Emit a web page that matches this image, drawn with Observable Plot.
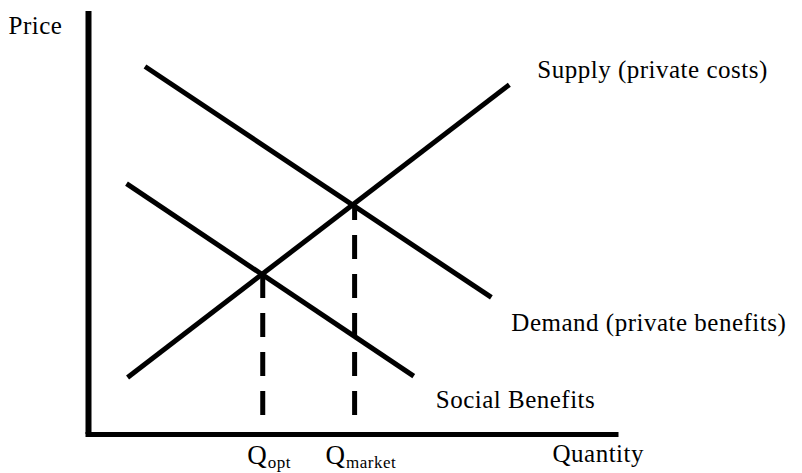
<!DOCTYPE html>
<html><head><meta charset="utf-8">
<script src="https://cdn.jsdelivr.net/npm/d3@7"></script>
<script src="https://cdn.jsdelivr.net/npm/@observablehq/plot@0.6"></script>
<style>
html,body{margin:0;padding:0;background:#fff;}
#chart svg{display:block;}
#chart svg, #chart svg text{font-family:"Liberation Serif","Times New Roman",serif !important;letter-spacing:0.5px;}
</style></head><body><div id="chart"></div>
<script>
// Curve end points (Quantity, Price) in abstract units, axes 0–100
const supplyQ = [7.4, 79.7];
const supplyP = [13.5, 82.7];
const demandQ = [10.7, 76.3];
const demandP = [87.0, 32.4];
const socialQ = [7.2, 61.6];
const socialP = [59.3, 13.8];
// Equilibria: optimal (social benefits = supply) and market (demand = supply)
const equilibriumQ = [33.0, 50.4];
const equilibriumP = [38.1, 54.1];
const equilibriumSub = ["opt", "market"];
const curveLabels = ["Supply (private costs)", "Demand (private benefits)", "Social Benefits"];
const axisLabels = ["Price", "Quantity"];

const toPts = (qs, ps) => qs.map((q, i) => ({q, p: ps[i]}));
const supply = toPts(supplyQ, supplyP);
const demand = toPts(demandQ, demandP);
const social = toPts(socialQ, socialP);
const equilibria = equilibriumQ.map((q, i) => ({q, p: equilibriumP[i], sub: equilibriumSub[i]}));

const FONT = "Liberation Serif";
const LS = 0.5;
const ctx = document.createElement("canvas").getContext("2d");
function tw(s, size) { ctx.font = `${size}px "Liberation Serif"`; return ctx.measureText(s).width + s.length * LS; }

const QSIZE = 27, SUBSIZE = 17;
const qLabelMarks = equilibria.flatMap(d => {
  const wQ = tw("Q", QSIZE), wS = tw(d.sub, SUBSIZE);
  const dx = 6 - (wQ + wS) / 2 + wQ;
  return [
    Plot.text([d], {x: "q", y: () => 0, text: () => "Q", textAnchor: "end", lineAnchor: "bottom", dx, dy: 29, fontSize: QSIZE, fontFamily: FONT, fill: "#000"}),
    Plot.text([d], {x: "q", y: () => 0, text: "sub", textAnchor: "start", lineAnchor: "bottom", dx: dx + 0.5, dy: 33, fontSize: SUBSIZE, fontFamily: FONT, fill: "#000"})
  ];
});

const lineStyle = {x: "q", y: "p", stroke: "#000", strokeWidth: 5, strokeLinecap: "butt"};
const txt = {textAnchor: "start", lineAnchor: "bottom", fontSize: 25, fontFamily: FONT, fill: "#000"};

const chart = Plot.plot({
  width: 802,
  height: 473,
  marginLeft: 88,
  marginRight: 186,
  marginTop: 11,
  marginBottom: 39,
  x: {domain: [0, 100], axis: null},
  y: {domain: [0, 100], axis: null},
  style: {background: "#fff", color: "#000"},
  marks: [
    Plot.ruleX([0], {stroke: "#000", strokeWidth: 6}),
    Plot.ruleY([0], {stroke: "#000", strokeWidth: 5, strokeLinecap: "square"}),
    Plot.line(supply, lineStyle),
    Plot.line(demand, lineStyle),
    Plot.line(social, lineStyle),
    Plot.ruleX(equilibria, {x: "q", y1: () => 4.5, y2: "p", stroke: "#000", strokeWidth: 5, strokeDasharray: "24,15"}),
    Plot.text([supply[1]], {x: "q", y: "p", text: () => curveLabels[0], dx: 28, dy: -7, ...txt}),
    Plot.text([demand[1]], {x: "q", y: "p", text: () => curveLabels[1], dx: 20, dy: 34, ...txt}),
    Plot.text([social[1]], {x: "q", y: "p", text: () => curveLabels[2], dx: 22, dy: 31.5, ...txt}),
    Plot.text([axisLabels[0]], {frameAnchor: "top-left", text: d => d, dx: -80, dy: 22, ...txt}),
    Plot.text([axisLabels[1]], {frameAnchor: "bottom-right", text: d => d, dx: -64, dy: 27, ...txt}),
    ...qLabelMarks
  ]
});
document.getElementById("chart").appendChild(chart);
</script>
</body></html>
